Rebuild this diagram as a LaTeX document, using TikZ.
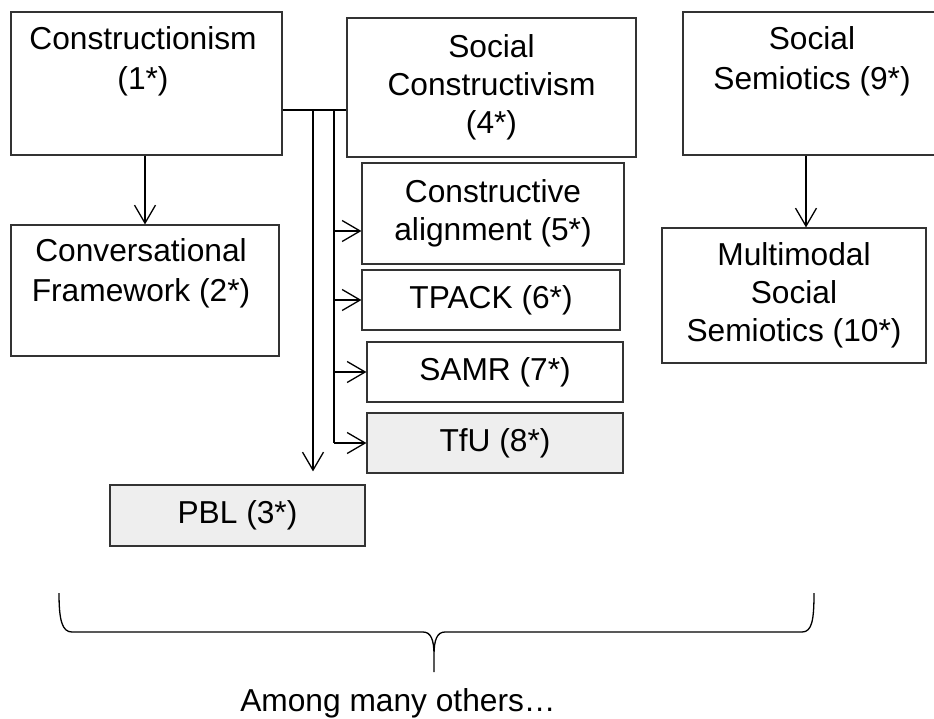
\documentclass[tikz,border=0pt]{standalone}
\usepackage{fontspec}
\setmainfont{Liberation Sans}
\usepackage{xcolor}
\usepackage{tikz}
\usetikzlibrary{arrows.meta, positioning, calc}
\definecolor{boxgray}{HTML}{EEEEEE}
\definecolor{edgegray}{HTML}{333333}

\begin{document}
\begin{tikzpicture}[x=1pt, y=-1pt,
  box/.style={draw=edgegray, line width=1.2pt, inner sep=0pt, align=center,
    font=\fontsize{31.7}{38}\selectfont},
  lbl/.style={align=center, inner sep=0pt, font=\fontsize{31.7}{40}\selectfont},
  conn/.style={line width=1.3pt},
  arr/.style={conn, -{Straight Barb[length=18pt, width=21pt]}}]
\useasboundingbox (0,0) rectangle (934,718);
% top row
\node[box, minimum width=271, minimum height=143] (cons) at (146.5,83.5) {};
\node[lbl] (conslbl) at (143,61) {Constructionism\\(1*)};
\node[box, minimum width=289, minimum height=139] (socc) at (491.5,87.5) {Social\\Constructivism\\(4*)};
\node[box, minimum width=258, minimum height=143] (sems) at (812,83.5) {};
\node[lbl] (semslbl) at (812,61) {Social\\Semiotics (9*)};
% second level
\node[box, minimum width=268, minimum height=131] (conv) at (145,290.5) {};
\node[lbl] (convlbl) at (141,273) {Conversational\\Framework (2*)};
\node[box, minimum width=262, minimum height=101] (cali) at (493,213.5) {Constructive\\alignment (5*)};
\node[box, minimum width=258, minimum height=60] (tpack) at (491,300) {TPACK (6*)};
\node[box, minimum width=256, minimum height=60] (samr) at (495,372) {SAMR (7*)};
\node[box, fill=boxgray, minimum width=256, minimum height=60] (tfu) at (495,443) {TfU (8*)};
\node[box, fill=boxgray, minimum width=255, minimum height=61] (pbl) at (237.5,515.5) {PBL (3*)};
\node[box, minimum width=264, minimum height=135] (mms) at (794,295.5) {Multimodal\\Social\\Semiotics (10*)};
\node[lbl] (others) at (398,703) {Among many others\ldots};
% connectors
\coordinate (t1) at (313,110);
\coordinate (t2) at (334,110);
\coordinate (t3) at (806,0);
\coordinate (calipt) at ([yshift=-17.5pt]cali.west);
\draw[conn] (cons.east |- t1) -- (socc.west |- t1);
\draw[arr, shorten >=13pt] (t1) -- (t1 |- pbl.north);
\draw[conn] (t2) -- (t2 |- tfu.west);
\draw[arr] (t2 |- calipt) -- (calipt);
\foreach \b in {tpack, samr, tfu}
  \draw[arr] (t2 |- \b.west) -- (\b.west);
\draw[arr] (cons.south -| conv.north) -- (conv.north);
\draw[arr] (sems.south -| t3) -- (mms.north -| t3);
% brace
\coordinate (tip) at (434,672);
\draw[line width=1.3pt] (59,593) .. controls (59,620) and (62,632) .. (72,632) -- (423,632)
  .. controls (431,632) and (434,640) .. (434,655) -- (tip)
  (434,655) .. controls (434,640) and (437,632) .. (445,632) -- (802,632)
  .. controls (812,632) and (814,620) .. (814,593);
\end{tikzpicture}
\end{document}
